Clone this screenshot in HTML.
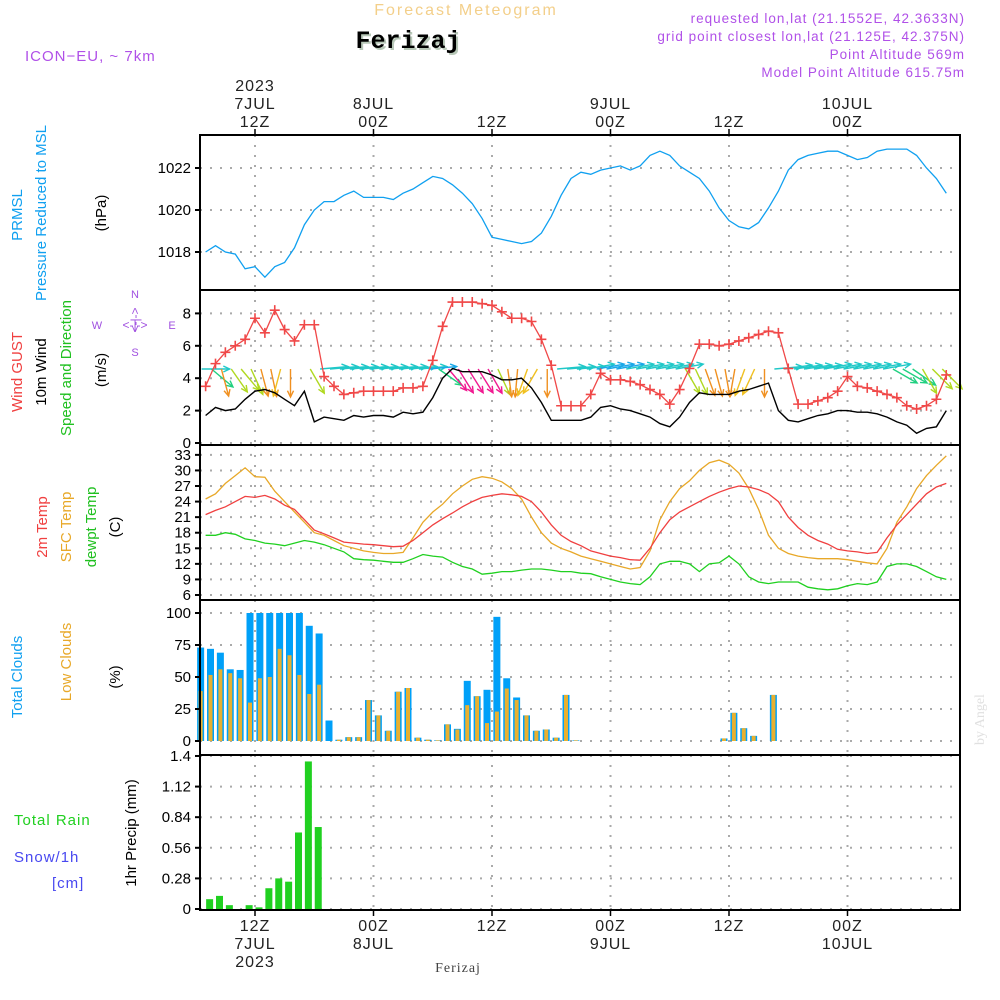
<!DOCTYPE html>
<html><head><meta charset="utf-8">
<style>
html,body{margin:0;padding:0;background:#fff;}
svg{display:block;font-family:"Liberation Sans",sans-serif;}
</style></head>
<body>
<svg id="chart" width="1000" height="1000" viewBox="0 0 1000 1000" xmlns="http://www.w3.org/2000/svg">
<g id="header">
<text x="466" y="15" text-anchor="middle" font-size="16" fill="#f3cf8a" letter-spacing="2">Forecast Meteogram</text>
<text x="410" y="50" text-anchor="middle" font-size="25" font-weight="bold" font-family="Liberation Mono,monospace" fill="#b8c8b8">Ferizaj</text>
<text x="408" y="48" text-anchor="middle" font-size="25" font-weight="bold" font-family="Liberation Mono,monospace" fill="#000">Ferizaj</text>
<text x="25" y="61" font-size="15" fill="#b050e8" letter-spacing="1">ICON−EU, ~ 7km</text>
<g font-size="13.5" fill="#b050e8" text-anchor="end" letter-spacing="1">
<text x="965" y="23">requested lon,lat (21.1552E, 42.3633N)</text>
<text x="965" y="41">grid point closest lon,lat (21.125E, 42.375N)</text>
<text x="965" y="59">Point Altitude 569m</text>
<text x="965" y="77">Model Point Altitude 615.75m</text>
</g>
<text transform="translate(984,745) rotate(-90)" font-size="14" font-family="Liberation Serif,serif" fill="#e0e0e0">by Angel</text>
<text x="458" y="972" text-anchor="middle" font-size="14" font-family="Liberation Serif,serif" fill="#444" letter-spacing="1">Ferizaj</text>
</g>
<g id="labels" font-size="15"></g>
<g id="grid"></g>
<g id="marks"></g>
<g id="frame"></g>
</svg>
<script>
// ---------- data ----------
const hours = []; for (let h = 7; h <= 82; h++) hours.push(h); // hours since 7JUL 00Z
const pressure = [1018.0,1018.3,1018.0,1017.9,1017.2,1017.3,1016.8,1017.3,1017.5,1018.2,1019.3,1020.0,1020.4,1020.4,1020.7,1020.9,1020.6,1020.6,1020.6,1020.5,1020.8,1021.0,1021.3,1021.6,1021.5,1021.2,1020.8,1020.3,1019.6,1018.7,1018.6,1018.5,1018.4,1018.5,1018.9,1019.7,1020.7,1021.5,1021.8,1021.7,1021.9,1022.0,1022.1,1021.9,1022.1,1022.6,1022.8,1022.6,1022.1,1021.8,1021.5,1020.9,1020.1,1019.5,1019.2,1019.1,1019.4,1020.1,1020.9,1021.9,1022.4,1022.6,1022.7,1022.8,1022.8,1022.6,1022.4,1022.5,1022.8,1022.9,1022.9,1022.9,1022.6,1022.0,1021.5,1020.8];
const gust = [3.5,4.9,5.6,6.0,6.4,7.7,6.8,8.2,7.0,6.3,7.3,7.3,4.1,3.5,3.0,3.1,3.2,3.2,3.2,3.2,3.4,3.4,3.5,5.1,7.2,8.7,8.7,8.7,8.6,8.5,8.1,7.7,7.7,7.5,6.4,4.8,2.3,2.3,2.3,3.0,4.3,3.9,3.9,3.8,3.6,3.3,3.0,2.4,3.3,4.6,6.1,6.1,6.0,6.1,6.3,6.5,6.7,6.9,6.8,4.6,2.4,2.4,2.6,2.8,3.2,4.1,3.5,3.4,3.2,3.0,2.8,2.3,2.1,2.3,2.7,4.2];
const wind10 = [1.7,2.2,2.0,2.1,2.7,3.2,3.3,3.1,2.7,2.3,3.2,1.3,1.6,1.5,1.4,1.7,1.6,1.7,1.7,1.6,1.9,1.8,1.9,2.8,4.0,4.6,4.4,4.4,4.4,4.2,3.9,3.9,4.0,3.4,2.5,1.4,1.4,1.4,1.4,1.6,2.2,2.3,2.1,2.0,1.8,1.6,1.2,1.0,1.6,2.5,3.1,3.0,3.0,3.0,3.2,3.3,3.5,3.7,2.0,1.4,1.3,1.5,1.7,1.8,2.0,2.0,1.9,1.9,1.8,1.6,1.3,1.1,0.6,0.9,1.0,2.0];
const windAngle = [0,40,75,55,50,65,75,78,105,90,null,60,-5,-5,-5,-5,-5,-5,-5,-5,-5,-5,-5,-5,35,50,58,58,58,60,65,82,95,110,120,90,-5,-5,-5,-10,-10,-10,-10,-10,-10,-10,-10,-10,-10,60,65,70,75,80,100,110,115,90,-5,-8,-8,-8,-8,-10,-10,-10,-10,-10,-10,-10,30,30,35,60,45,45];
const temp2m = [21.5,22.3,23,24,25,24.8,25.2,24.5,23.3,22.5,20.5,18.5,17.8,17.0,16.2,16.0,15.8,15.7,15.5,15.3,15.4,16.5,18,19.5,20.7,21.8,23,24,24.8,25.2,25.5,25.3,25,24,22,19.5,17.5,16.3,15.5,14.5,14,13.5,13.2,12.8,12.7,15,18,20.5,22,23,24,25,25.8,26.5,27,26.8,26.3,25.5,24,21,19,17.5,16.5,15.8,14.8,14.5,14.3,14.0,14.2,17,19.5,21.5,23.5,25.5,26.8,27.5];
const tempSfc = [24.5,25.5,27.5,29,30.5,28.8,28.7,26,24,22,20,18,17.5,16.5,15.5,15,14.5,14.2,14,14,14.2,17,20,22,23.5,25.5,27,28.3,28.8,28.5,27.8,26.5,24.5,21,18,16,15,14.3,13.5,13,12.5,12,11.5,11,11.3,14.5,20.5,24,26.5,28,30,31.5,32,31.2,29.5,26.5,22.5,17.5,15,14,13.5,13.2,13,13,13,12.8,12.5,12.2,12,15,20,23,26.5,29,31,32.8];
const dewpt = [17.5,17.5,18,17.7,16.8,16.5,16,15.8,15.5,16,16.5,16.2,15.7,15,14.3,13,12.8,12.7,12.5,12.3,12.3,13,13.8,13.5,13.3,12.3,11.5,11.0,10,10.2,10.5,10.5,10.8,11,11,10.8,10.5,10.5,10.2,10.1,9.5,9,8.5,8.2,8,9.5,12,12.5,12.5,12.0,10.5,12,12.2,13.5,12,9.5,8.5,8.2,8.5,8.5,8.5,7.5,7.2,7.0,7.2,7.8,8.2,8.0,8.5,11.5,12,12,11.5,10.5,9.5,9];
const totalCloud = [73,72,69,56,55.5,100,100,100,100,100,100,90,84,16,1,3,3,32,20,8,38.5,41.4,2.6,1,0.5,13,9.5,47,35,40,97,49,34,20,8,9,2.6,36,0.5,0,0,0,0,0,0,0,0,0,0,0,0,0,0,2,22,10,4,0,36,0,0,0,0,0,0,0,0,0,0,0,0,0,0,0,0,0];
const lowCloud = [39,51.6,56,53,49,30,49,50,72,67,51.6,36.7,44,0,1,3,3,32,20,8,38.5,41.4,2.6,1,0.5,13,9,28,35,14,23,41,32,20,8,9,2.6,36,0.5,0,0,0,0,0,0,0,0,0,0,0,0,0,0,2,22,10,4,0,36,0,0,0,0,0,0,0,0,0,0,0,0,0,0,0,0,0];
const precip = [0.09,0.12,0.035,0,0.035,0.015,0.19,0.28,0.25,0.70,1.35,0.75,0,0,0,0,0,0,0,0,0,0,0,0,0,0,0,0,0,0,0,0,0,0,0,0,0,0,0,0,0,0,0,0,0,0,0,0,0,0,0,0,0,0,0,0,0,0,0,0,0,0,0,0,0,0,0,0,0,0,0,0,0,0,0,0];
const timeTicks = [12,24,36,48,60,72];
const topTickLabels = [["2023","7JUL","12Z"],["","8JUL","00Z"],["","","12Z"],["","9JUL","00Z"],["","","12Z"],["","10JUL","00Z"]];
const botTickLabels = [["12Z","7JUL","2023"],["00Z","8JUL",""],["12Z","",""],["00Z","9JUL",""],["12Z","",""],["00Z","10JUL",""]];
const pTicks = [1018,1020,1022];
const wTicks = [0,2,4,6,8];
const tTicks = [6,9,12,15,18,21,24,27,30,33];
const cTicks = [0,25,50,75,100];
const rTicks = [0,0.28,0.56,0.84,1.12,1.4];
const rTickLabels = ["0","0.28","0.56","0.84","1.12","1.4"];

// ---------- scales ----------
const X0 = 200, X1 = 960;
const xT = t => 255 + (t - 12) * 9.875;
const yP = v => 210 - (v - 1020) * 21;
const yW = v => 443 - v * 16.2;
const yT = v => 595 - (v - 6) * 5.19;
const yC = v => 741 - v * 1.28;
const yR = v => 909 - v * 109.3;
const panels = [[135,290],[290,445],[445,600],[600,755],[755,910]];

const NS = "http://www.w3.org/2000/svg";
function mk(tag, parent, attrs) {
  const e = document.createElementNS(NS, tag);
  for (const k in attrs) e.setAttribute(k, attrs[k]);
  parent.appendChild(e); return e;
}
const grid = document.getElementById('grid');
const marks = document.getElementById('marks');
const frame = document.getElementById('frame');
const labels = document.getElementById('labels');

// grid: vertical
panels.forEach(([a,b]) => {
  timeTicks.forEach(t => {
    const l = mk('line', grid, {x1:xT(t), x2:xT(t), y1:a, y2:b, stroke:'#aaa', 'stroke-width':2, 'stroke-dasharray':'2,8'});
    
    
  });
});
function hgrid(ticks, yf, lab, fmt) {
  ticks.forEach((v, i) => {
    const y = yf(v);
    const l = mk('line', grid, {x1:X0, x2:X1, y1:y, y2:y, stroke:'#aaa', 'stroke-width':2, 'stroke-dasharray':'2,8'});
    
    
    mk('line', frame, {x1:X0-5, x2:X0, y1:y, y2:y, stroke:'#000', 'stroke-width':2});
    const tx = mk('text', frame, {x:191, y:y+5, 'text-anchor':'end', 'font-size':15, fill:'#000'});
    tx.textContent = fmt ? fmt[i] : String(v);
    
    
  });
}
hgrid(pTicks, yP, 'pressure');
hgrid(wTicks, yW, 'wind');
hgrid(tTicks, yT, 'temp');
hgrid(cTicks, yC, 'cloud');
hgrid(rTicks, yR, 'precip', rTickLabels);

function line(vals, yf, color, name, w) {
  const pts = vals.map((v,i) => xT(hours[i]).toFixed(1) + ',' + yf(v).toFixed(1)).join(' ');
  const p = mk('polyline', marks, {points:pts, fill:'none', stroke:color, 'stroke-width':w||1.3});
  
  
}
// pressure
line(pressure, yP, '#10a0f0', 'pressure-line');
// clouds
totalCloud.forEach((v,i) => {
  const cx = xT(hours[i]) - 5;
  const b = mk('rect', marks, {x:cx-3.5, y:yC(v), width:7, height:741-yC(v), fill:'#00a0f8'});
  
  
  const lv = lowCloud[i];
  const o = mk('rect', marks, {x:cx-2, y:yC(lv), width:4, height:741-yC(lv), fill:'#e8b030'});
  
  
});
// precip
precip.forEach((v,i) => {
  const cx = xT(hours[i]) + 4;
  const b = mk('rect', marks, {x:cx-3.5, y:yR(v), width:7, height:909-yR(v), fill:'#20d020'});
  
  
});
// temps
line(dewpt, yT, '#20d020', 'dewpoint-line');
line(tempSfc, yT, '#e8a828', 'sfc-temp-line');
line(temp2m, yT, '#f04040', 'temp-2m-line');
// wind arrows
function arrowColor(a, s) {
  if (a === null) return 'none';
  if (a <= 0) return s > 2 ? '#18a8e8' : '#20c8c8';
  if (a < 45) return '#20d080';
  if (s > 4.1 && a < 70) return '#f01890';
  if (a < 70) return '#b0d820';
  if (a > 100) return '#f0c020';
  return '#f09020';
}
windAngle.forEach((a,i) => {
  if (a === null) return;
  const x = xT(hours[i]) - 4, y = 369;
  const L = 28, r = a * Math.PI / 180;
  const x2 = x + L * Math.cos(r), y2 = y + L * Math.sin(r);
  const c = arrowColor(a, wind10[i]);
  const g = mk('g', marks, {stroke:c, 'stroke-width':1.4, fill:'none'});
  
  
  mk('line', g, {x1:x, y1:y, x2:x2, y2:y2});
  const h1 = r + Math.PI - 0.45, h2 = r + Math.PI + 0.45;
  mk('polyline', g, {points:`${x2+7*Math.cos(h1)},${y2+7*Math.sin(h1)} ${x2},${y2} ${x2+7*Math.cos(h2)},${y2+7*Math.sin(h2)}`});
});
line(wind10, yW, '#000', 'wind-10m-line', 1.4);
line(gust, yW, '#f04848', 'gust-line', 1.3);
gust.forEach((v,i) => {
  const x = xT(hours[i]), y = yW(v);
  const g = mk('path', marks, {d:`M${x-5},${y}H${x+5}M${x},${y-5}V${y+5}`, stroke:'#f04848', 'stroke-width':1.6});
  
  
});

// frame
panels.forEach(([a,b]) => {
  const r = mk('rect', frame, {x:X0, y:a, width:X1-X0, height:b-a, fill:'none', stroke:'#000', 'stroke-width':2});
  
  
});
timeTicks.forEach((t,i) => {
  const x = xT(t);
  mk('line', frame, {x1:x, x2:x, y1:129, y2:135, stroke:'#000', 'stroke-width':1.5});
  mk('line', frame, {x1:x, x2:x, y1:910, y2:916, stroke:'#000', 'stroke-width':1.5});
  topTickLabels[i].forEach((s,k) => {
    if (!s) return;
    const tx = mk('text', frame, {x:x, y:91+k*18, 'text-anchor':'middle', 'font-size':16, fill:'#222', 'letter-spacing':1});
    tx.textContent = s;
    
    
  });
  botTickLabels[i].forEach((s,k) => {
    if (!s) return;
    const tx = mk('text', frame, {x:x, y:931+k*18, 'text-anchor':'middle', 'font-size':16, fill:'#222', 'letter-spacing':1});
    tx.textContent = s;
    
    
  });
});

// axis labels
function vlab(txt, x, y, color, name, size) {
  const t = mk('text', labels, {transform:`translate(${x},${y}) rotate(-90)`, 'text-anchor':'middle', fill:color, 'font-size':size||15});
  t.textContent = txt;
  
  
}
function hlab(txt, x, y, color, name) {
  const t = mk('text', labels, {x:x, y:y, fill:color, 'font-size':15, 'letter-spacing':1});
  t.textContent = txt;
  
  
}
vlab('PRMSL', 22, 215, '#10a0f0', 'prmsl-label');
vlab('Pressure Reduced to MSL', 46, 213, '#10a0f0', 'pressure-axis-title');
vlab('(hPa)', 106, 213, '#000', 'pressure-unit');
vlab('Wind GUST', 22, 372, '#f04040', 'gust-label');
vlab('10m Wind', 46, 372, '#000', 'wind10-label');
vlab('Speed and Direction', 71, 368, '#20c020', 'wind-dir-label');
vlab('(m/s)', 106, 370, '#000', 'wind-unit');
vlab('2m Temp', 47, 527, '#f04040', 'temp2m-label');
vlab('SFC Temp', 71, 527, '#e8a828', 'sfc-temp-label');
vlab('dewpt Temp', 96, 527, '#20c020', 'dewpt-label');
vlab('(C)', 120, 527, '#000', 'temp-unit');
vlab('Total Clouds', 22, 677, '#10a0f0', 'total-cloud-label');
vlab('Low Clouds', 71, 662, '#e8a828', 'low-cloud-label');
vlab('(%)', 120, 677, '#000', 'cloud-unit');
vlab('1hr Precip (mm)', 136, 833, '#000', 'precip-axis-title');
hlab('Total  Rain', 14, 825, '#20d020', 'rain-label');
hlab('Snow/1h', 14, 862, '#4848f0', 'snow-label');
hlab('[cm]', 52, 888, '#4848f0', 'snow-unit');
// compass
const cg = mk('g', labels, {fill:'#a050e0', 'font-size':11});


[['N',135,298],['S',135,356],['W',97,329],['E',172,329]].forEach(([s,x,y]) => {
  const t = mk('text', cg, {x:x, y:y, 'text-anchor':'middle'}); t.textContent = s;
});
mk('text', cg, {x:135, y:329, 'text-anchor':'middle', 'font-size':12}).textContent = '<-|->';
mk('text', cg, {transform:'translate(139,320) rotate(-90)', 'text-anchor':'middle', 'font-size':12}).textContent = '<-|->';
</script>
</body></html>
